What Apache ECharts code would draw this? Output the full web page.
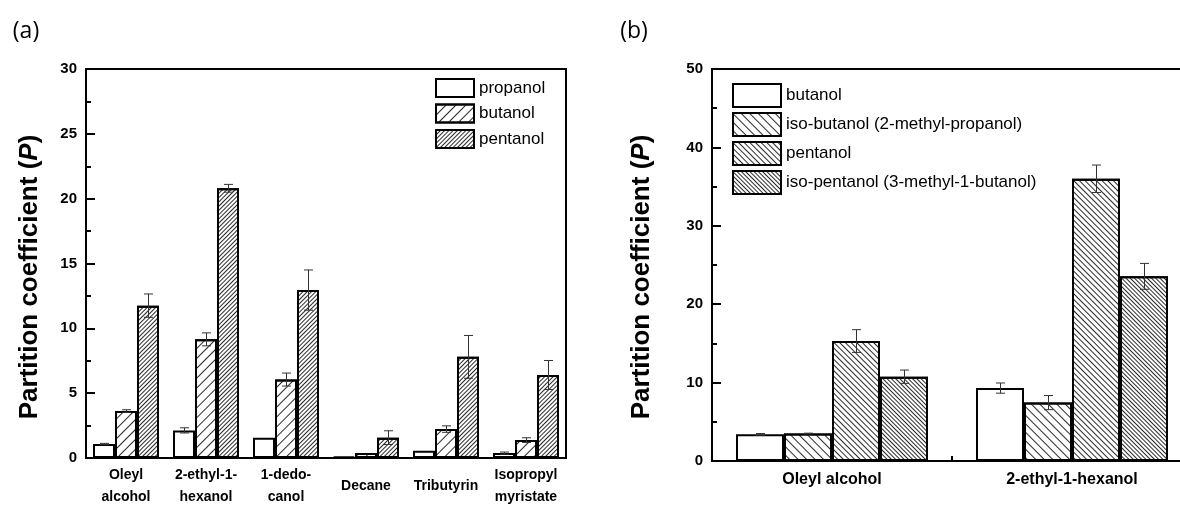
<!DOCTYPE html>
<html><head><meta charset="utf-8">
<script src="https://cdn.jsdelivr.net/npm/echarts@6/dist/echarts.min.js"></script>
<style>html,body{margin:0;padding:0;background:#fff;overflow:hidden;width:1180px;height:508px}#c{width:1194px;height:508px}</style>
</head><body><div id="c"></div>
<script>
// ---------- Panel (a) ----------
const catsA = ['Oleyl\nalcohol', '2-ethyl-1-\nhexanol', '1-dedo-\ncanol', 'Decane', 'Tributyrin', 'Isopropyl\nmyristate'];
const namesA = ['propanol', 'butanol', 'pentanol'];
const propanolA = [1.08, 2.13, 1.56, 0.10, 0.56, 0.38];
const propanolErrA = [0.05, 0.2, 0, 0, 0, 0.08];
const butanolA = [3.62, 9.15, 6.05, 0.38, 2.23, 1.38];
const butanolErrA = [0.1, 0.5, 0.5, 0, 0.25, 0.18];
const pentanolA = [11.75, 20.8, 12.95, 1.57, 7.8, 6.4];
const pentanolErrA = [0.9, 0.3, 1.55, 0.53, 1.65, 1.12];
const yTicksA = [0, 5, 10, 15, 20, 25, 30];

// ---------- Panel (b) ----------
const catsB = ['Oleyl alcohol', '2-ethyl-1-hexanol'];
const namesB = ['butanol', 'iso-butanol (2-methyl-propanol)', 'pentanol', 'iso-pentanol (3-methyl-1-butanol)'];
const butanolB = [3.4, 9.3];
const butanolErrB = [0.1, 0.65];
const isoButanolB = [3.5, 7.45];
const isoButanolErrB = [0.05, 0.9];
const pentanolB = [15.3, 36.0];
const pentanolErrB = [1.45, 1.75];
const isoPentanolB = [10.75, 23.55];
const isoPentanolErrB = [0.85, 1.65];
const yTicksB = [0, 10, 20, 30, 40, 50];

const FONT = 'Liberation Sans, Arial, sans-serif';
const GAP_A = 0.175, GAP_B = 0.2;

function hatch(gap, rot) {
  return { symbol: 'rect', symbolSize: 1, color: '#2a2a2a', dashArrayX: [1, 0], dashArrayY: [1, gap], rotation: rot };
}
function barSeries(name, data, axis, gap, decal) {
  const s = {
    type: 'bar', name: name, xAxisIndex: axis, yAxisIndex: axis, data: data,
    barGap: '0%', barCategoryGap: (gap * 100) + '%',
    itemStyle: { color: '#fff', borderColor: '#000', borderWidth: 2 }
  };
  if (decal) s.itemStyle.decal = decal;
  return s;
}
function errSeries(name, vals, errs, axis, k, n, gap) {
  return {
    type: 'custom', name: name + ' err', xAxisIndex: axis, yAxisIndex: axis, z: 5,
    data: vals.map((v, i) => [i, v, errs[i]]),
    encode: { x: 0, y: 1 },
    renderItem: function (params, api) {
      const i = api.value(0), v = api.value(1), e = api.value(2);
      if (!e) return null;
      const band = api.size([1, 0])[0];
      const gw = band * (1 - gap), bw = gw / n;
      const c = api.coord([i, v]);
      const x = Math.round(c[0] - gw / 2 + bw * (k + 0.5)) + 0.5;
      const yt = api.coord([i, v + e])[1], yb = api.coord([i, v - e])[1];
      const h = 4.5;
      const st = { stroke: '#333', lineWidth: 1 };
      return { type: 'group', children: [
        { type: 'line', shape: { x1: x, y1: yt, x2: x, y2: yb }, style: st },
        { type: 'line', shape: { x1: x - h, y1: yt, x2: x + h, y2: yt }, style: st },
        { type: 'line', shape: { x1: x - h, y1: yb, x2: x + h, y2: yb }, style: st }
      ] };
    }
  };
}

const decA = [null, hatch(6, -Math.PI / 4), hatch(2, -Math.PI / 4)];
const decB = [null, hatch(5, Math.PI / 4), hatch(3, Math.PI / 4), hatch(2, Math.PI / 4)];
const valsA = [propanolA, butanolA, pentanolA];
const errsA = [propanolErrA, butanolErrA, pentanolErrA];
const valsB = [butanolB, isoButanolB, pentanolB, isoPentanolB];
const errsB = [butanolErrB, isoButanolErrB, pentanolErrB, isoPentanolErrB];

const series = [];
namesA.forEach((n, k) => series.push(barSeries('a:' + n, valsA[k], 0, GAP_A, decA[k])));
namesB.forEach((n, k) => series.push(barSeries('b:' + n, valsB[k], 1, GAP_B, decB[k])));
namesA.forEach((n, k) => series.push(errSeries('a:' + n, valsA[k], errsA[k], 0, k, namesA.length, GAP_A)));
namesB.forEach((n, k) => series.push(errSeries('b:' + n, valsB[k], errsB[k], 1, k, namesB.length, GAP_B)));

function yAxis(grid, ticks) {
  return {
    type: 'value', gridIndex: grid, min: ticks[0], max: ticks[ticks.length - 1], interval: ticks[1] - ticks[0],
    axisLine: { show: true, lineStyle: { color: '#000', width: 2 } },
    axisTick: { show: true, inside: true, length: 9, lineStyle: { color: '#000', width: 2 } },
    minorTick: { show: true, splitNumber: 2, length: 5, lineStyle: { color: '#000', width: 2 } },
    splitLine: { show: false },
    axisLabel: { fontSize: 15, fontWeight: 'bold', fontFamily: FONT, color: '#000', margin: 9 }
  };
}
const titleText = '{n|Partition coefficient (}{i|P}{n|)}';
const titleRich = {
  n: { fontSize: 26, fontWeight: 'bold', fontFamily: FONT, fill: '#000' },
  i: { fontSize: 26, fontWeight: 'bold', fontStyle: 'italic', fontFamily: FONT, fill: '#000' }
};

const option = {
  animation: false,
  backgroundColor: '#fff',
  grid: [
    { left: 86, top: 69, width: 480, height: 392, show: true, borderColor: '#000', borderWidth: 2 },
    { left: 712, top: 69, width: 480, height: 392, show: true, borderColor: '#000', borderWidth: 2 }
  ],
  xAxis: [
    { type: 'category', gridIndex: 0, data: catsA,
      axisLine: { lineStyle: { color: '#000', width: 2 } }, axisTick: { show: false },
      axisLabel: { interval: 0, fontSize: 14, fontWeight: 'bold', fontFamily: FONT, color: '#000', lineHeight: 22, verticalAlign: 'middle', margin: 28 } },
    { type: 'category', gridIndex: 1, data: catsB,
      axisLine: { lineStyle: { color: '#000', width: 2 } },
      axisTick: { show: true, inside: true, length: 5, alignWithLabel: false, interval: 0, lineStyle: { color: '#000', width: 2 } },
      axisLabel: { interval: 0, fontSize: 16, fontWeight: 'bold', fontFamily: FONT, color: '#000', verticalAlign: 'middle', margin: 19 } }
  ],
  yAxis: [yAxis(0, yTicksA), yAxis(1, yTicksB)],
  legend: [
    { orient: 'vertical', left: 435, top: 78, padding: 0, itemWidth: 38, itemHeight: 18, itemGap: 5.5, icon: 'rect', selectedMode: false,
      data: namesA.map(n => 'a:' + n), formatter: n => n.slice(2),
      textStyle: { fontSize: 17, fontFamily: FONT, color: '#000' } },
    { orient: 'vertical', left: 732, top: 83, padding: 0, itemWidth: 48, itemHeight: 23, itemGap: 4, icon: 'rect', selectedMode: false,
      data: namesB.map(n => 'b:' + n), formatter: n => n.slice(2),
      textStyle: { fontSize: 17, fontFamily: FONT, color: '#000' } }
  ],
  graphic: [
    { type: 'text', x: 26, y: 31, style: { text: '(a)', fontSize: 23, fontFamily: 'Open Sans, sans-serif', fill: '#000', align: 'center', verticalAlign: 'middle' } },
    { type: 'text', x: 634, y: 31, style: { text: '(b)', fontSize: 23, fontFamily: 'Open Sans, sans-serif', fill: '#000', align: 'center', verticalAlign: 'middle' } },
    { type: 'text', x: 30, y: 277, rotation: Math.PI / 2, style: { text: titleText, rich: titleRich, align: 'center', verticalAlign: 'middle' } },
    { type: 'text', x: 642, y: 277, rotation: Math.PI / 2, style: { text: titleText, rich: titleRich, align: 'center', verticalAlign: 'middle' } }
  ],
  series: series
};
const chart = echarts.init(document.getElementById('c'), null, { renderer: 'canvas' });
chart.setOption(option);
</script></body></html>
